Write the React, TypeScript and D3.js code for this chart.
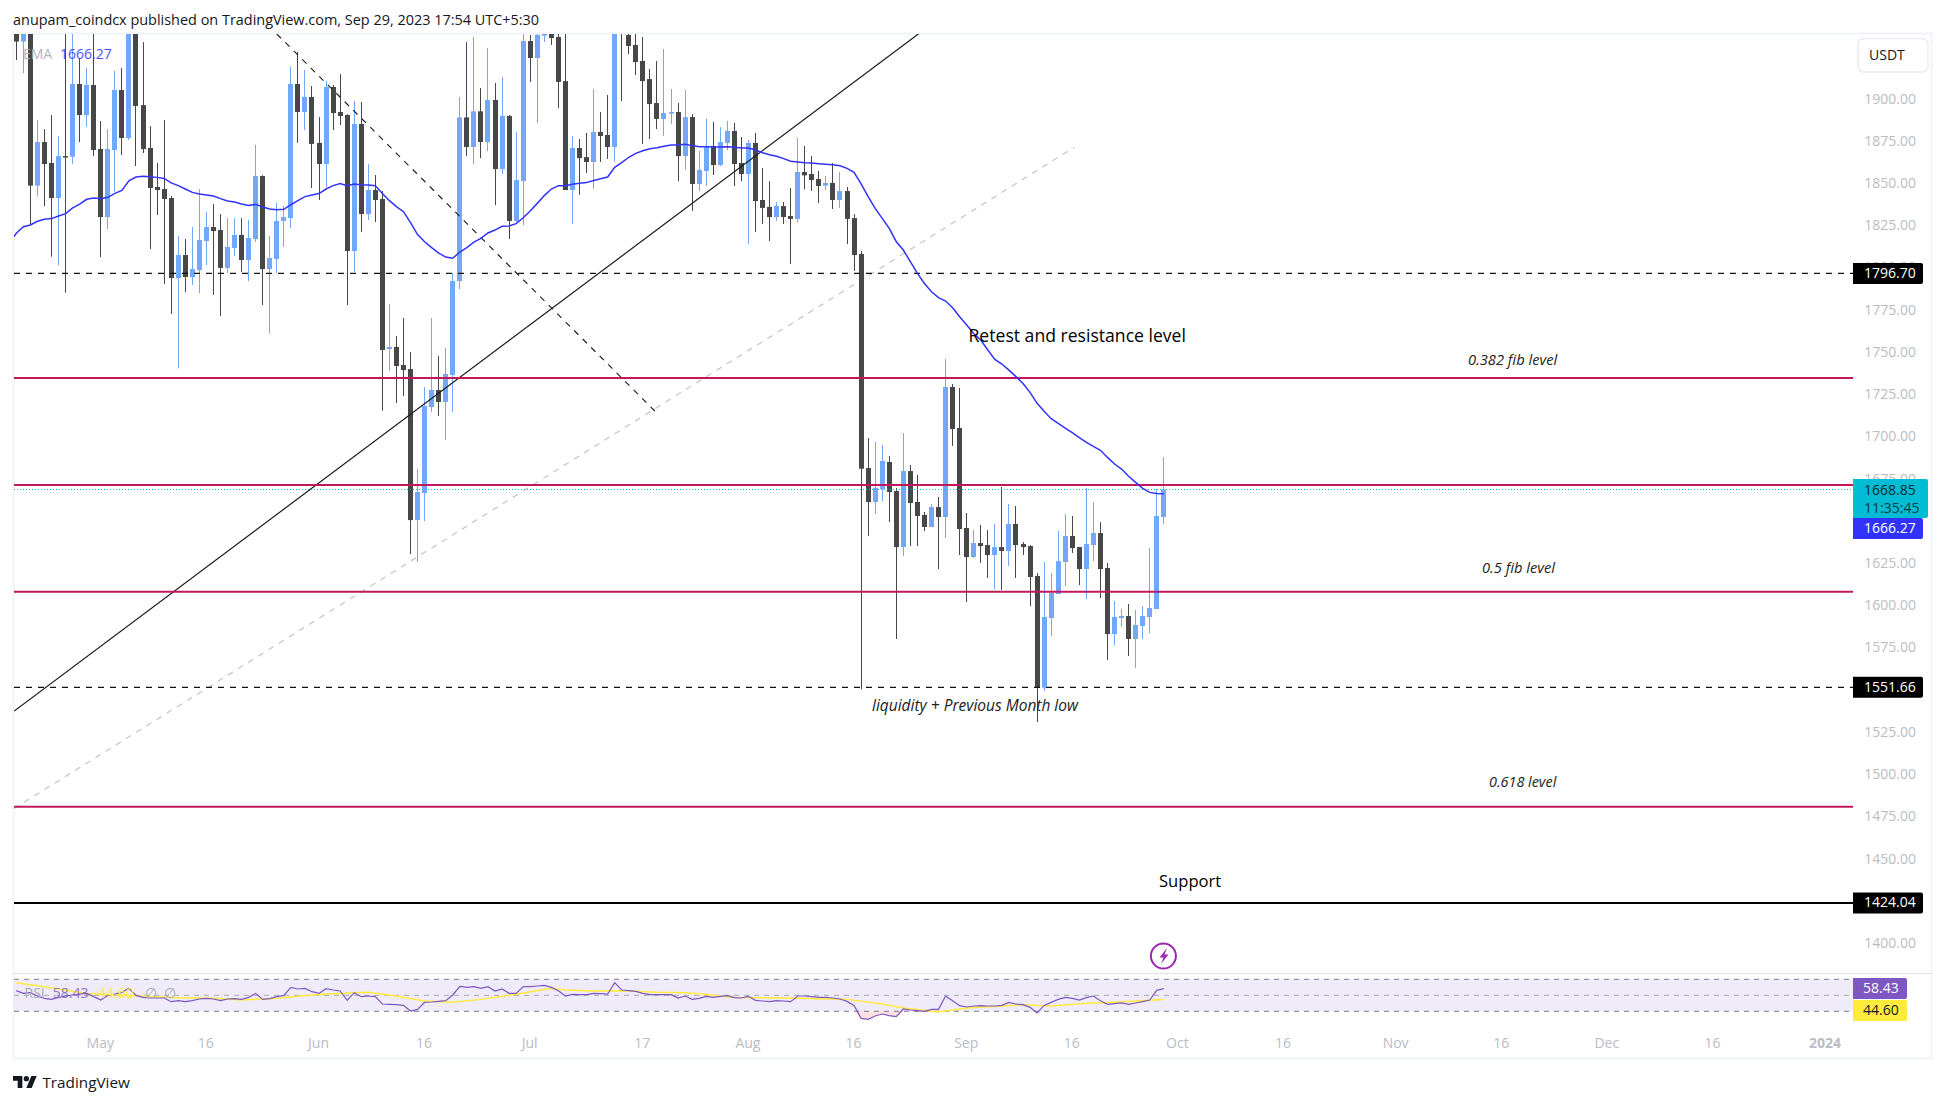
import React from "react";
import * as d3 from "d3";

const startDate = Date.UTC(2023, 3, 19);
const opens = [1945,1934,1945,1848.7,1874.5,1862.1,1841.4,1866.2,1865.8,1908.9,
1890.5,1908.3,1870.4,1830.1,1869.8,1905.3,1876.9,1943,1896.4,1871,
1847.9,1846.7,1841.4,1794,1807.6,1794.6,1798.7,1815.9,1824.2,1822.4,
1800,1811.8,1819.5,1804.7,1817.1,1854.4,1799.3,1805.3,1827.8,1829.5,
1908.9,1892.3,1901.2,1874,1861.5,1907.1,1892.3,1890.5,1810,1885.2,
1831.9,1846.1,1840.8,1752,1753.2,1742.5,1740.1,1650.7,1666.7,1717.6,
1727.7,1720.6,1736.6,1792.2,1889.1,1871.6,1892.7,1874.5,1899.4,1858.5,
1890,1827.8,1851.4,1934.3,1924.3,1937.5,1938.5,1936.7,1910.6,1846.1,
1871,1865.6,1862.7,1880.5,1878.7,1871.6,1945,1937.9,1932,1922.5,
1911.8,1897.6,1888.2,1891.3,1892.3,1866.2,1889.3,1849.7,1857.4,1872.2,
1860.9,1874,1881.1,1862.1,1855.6,1874,1840.2,1836.1,1830.1,1836.6,
1830.7,1829,1856.8,1855.6,1852.6,1848.7,1850.3,1840.2,1845.5,1829.5,
1808.2,1681.5,1661.4,1669.1,1685.1,1667.9,1634.7,1679.7,1661.4,1653.7,
1646.6,1658.4,1652.5,1729.5,1705.2,1646,1628.8,1637.1,1635.9,1630,
1634.7,1632.4,1648.4,1636.5,1635.3,1617.6,1551.5,1592.7,1606.9,1625.9,
1641.3,1634.7,1621.7,1635.9,1643,1622.3,1583.2,1592.7,1593.9,1580.3,
1588,1593.3,1598,1652.5];
const closes = [1934,1945,1848.7,1874.5,1861.5,1841.4,1866.2,1865.6,1908.9,1890.5,
1908.3,1869.8,1830.1,1870.4,1905.3,1876.9,1943,1895.9,1870.4,1847.3,
1846.1,1840.8,1794,1807.6,1794.6,1799.3,1816.5,1824.2,1821.8,1800,
1812.4,1819.5,1804.7,1817.7,1854.4,1799.3,1805.9,1827.8,1830.1,1908.9,
1892.3,1901.2,1873.4,1861.5,1907.1,1891.7,1889.9,1810,1885.2,1831.9,
1846.1,1840.2,1751.4,1753.2,1741.9,1739.5,1650.7,1667.3,1718.2,1727.7,
1720.6,1737.2,1792.2,1889.1,1871.6,1892.7,1874.5,1899.4,1858.5,1890,
1827.8,1852,1934.3,1924.3,1937.9,1938.5,1936.1,1910.1,1846.1,1871,
1865,1862.7,1880.5,1878.1,1871.6,1950,1938.5,1931.4,1921.9,1910.6,
1897,1888.2,1891.7,1892.3,1866.2,1889.3,1849.7,1858,1872.2,1860.9,
1874.5,1881.1,1861.5,1855.6,1874,1839.6,1835.5,1830.1,1836.6,1830.1,
1829,1856.8,1854.8,1852,1848.5,1850.3,1840.2,1845.5,1829,1807.6,
1681.1,1661.4,1669.7,1685.7,1667.3,1634.7,1679.7,1660.8,1653.1,1646.6,
1658.4,1652.5,1729.5,1704.6,1645.4,1628.8,1637.1,1635.3,1630,1634.7,
1632.4,1648.4,1635.9,1634.7,1617,1551.5,1593.3,1607.5,1626.4,1641.3,
1634.1,1621.7,1636.5,1643,1621.7,1583.2,1593.3,1593.9,1580.3,1588.6,
1593.9,1598.6,1653.1,1668.85];
const highs = [1950,1952,1950,1887.6,1882.2,1890.5,1878.1,1950,1945,1924.1,
1918.3,1942,1887,1882.2,1916.6,1918.3,1950,1950,1933.7,1884,
1862.1,1887.6,1842.6,1818.9,1817.1,1824.2,1846.7,1833.1,1837.8,1831.9,
1829.5,1829.5,1829.5,1828.4,1872.8,1854.9,1818.9,1838.4,1836.6,1919,
1927.8,1917.2,1907.7,1889.3,1910.6,1908.3,1914.8,1891,1898.8,1898.2,
1861.5,1855,1845.5,1778.6,1759.7,1770.3,1750.2,1680.9,1729.5,1770.3,
1747.8,1752.6,1796.8,1901.2,1933.7,1936.7,1906.5,1930.2,1909.5,1913,
1890.5,1880.5,1945,1937.9,1945,1945,1945,1938.5,1945,1878.1,
1876.3,1879.9,1905.9,1892.3,1902.4,1955,1950,1938.5,1938.5,1936.7,
1917.8,1922.5,1929.6,1905.9,1897.6,1905.3,1891.1,1869.2,1888.2,1886.4,
1883.4,1887,1885.8,1877.5,1875.7,1879.9,1859.1,1851.4,1839,1839,
1847.3,1876.9,1872.2,1866.2,1857.4,1854.4,1862.1,1856.8,1847.9,1831.9,
1810,1699.3,1696.9,1695.1,1688.6,1669.7,1702.2,1683.3,1677.4,1655.5,
1660.2,1664.4,1746,1731.3,1728.9,1654.9,1644.8,1647.8,1644.8,1648.4,
1670.3,1660.2,1659,1637.7,1635.9,1619.3,1625.9,1619.3,1644.2,1654.3,
1653.1,1634.7,1669.7,1661.4,1649.5,1625.3,1602.8,1598.1,1601,1597.5,
1599.8,1634.1,1669.1,1688];
const lows = [1923.1,1915.2,1825.4,1842.2,1836.6,1806.6,1801.7,1785.3,1861.5,1874.5,
1883.4,1866.2,1806.4,1823,1845,1866.8,1875.7,1860.3,1868,1811.2,
1831.3,1790.5,1772.7,1740.5,1785.7,1789.9,1785.1,1801.7,1784,1771.5,
1797,1807,1797.6,1792.2,1815.3,1778,1761.4,1797,1812.4,1823.6,
1874,1881.6,1847.3,1840.2,1847.9,1881.6,1884.6,1778,1797.6,1821.2,
1828.4,1827.2,1715.5,1739.1,1720,1724.1,1630.6,1625.9,1650.1,1714.7,
1712.3,1698.1,1714.7,1787.5,1866.2,1861.5,1865,1869.2,1837.2,1855.6,
1817.1,1827.2,1825.4,1910.1,1885.8,1933.7,1932,1894.7,1846.1,1826,
1843.2,1856.2,1846.7,1862.7,1864.5,1862.7,1898.8,1926.6,1914.2,1873.4,
1876.3,1882.2,1878.1,1885.2,1851.4,1858,1833.7,1845.5,1848.5,1855,
1860.3,1869.8,1848.5,1851.4,1814.1,1821.2,1826,1815.9,1827.8,1826,
1802.3,1826.8,1846.5,1845.5,1838.4,1846.1,1834.9,1835.5,1814.1,1798.2,
1550.5,1641.3,1654.3,1662,1649.5,1580.3,1629.4,1635.3,1635.3,1644.2,
1646.6,1621.7,1640.1,1694.6,1630,1602.2,1628.2,1625.3,1616.4,1609.9,
1609.3,1623.5,1616.4,1630,1599.8,1531.1,1549.5,1582.1,1606.9,1611.6,
1631.2,1612.2,1604,1626.5,1604.5,1567.8,1576.7,1587.4,1570.2,1563.1,
1580.3,1583.8,1598,1648.4];
const emaLeadDay = -0.35;
const emaLeadValue = 1818.4;
const emaValues = [1820.5,1824.4,1825.4,1827.6,1828.8,1829.2,1830.7,1832.1,1835.5,1837.8,1840.6,1841.4,1841,1841.8,1844.1,1845.9,1851.6,1853.8,1854.2,1854,1853.6,1853,1850.3,1848.7,1846.7,1844.7,1843.7,1843.2,1842.6,1841,1839.6,1839,1837.8,1837,1837.6,1836,1834.9,1834.5,1834.7,1837.4,1839.8,1842.2,1843.2,1844,1846.7,1848.7,1849.9,1848.7,1849.7,1849.3,1849.1,1848.7,1844.1,1839.8,1836.3,1833.3,
1826.8,1819.7,1815.5,1812,1808.8,1806.4,1805.7,1809.4,1812,1815.3,1817.5,1820.7,1822.4,1824.6,1824.8,1826.2,1829.7,1833.7,1838.2,1842.8,1846.7,1848.7,1848.7,1849.5,1850.1,1850.5,1851.8,1852.8,1853.8,1859.5,1862.3,1865.5,1867.8,1869.4,1870.6,1871.2,1872,1872.8,1872.8,1873.2,1872.4,1871.8,1871.8,1871.6,1871.6,1871.8,1871.4,1871,1871,1869.8,1868.2,1867,1866.1,1864.7,1863.1,1862.7,
1862.3,1862.1,1861.7,1861.3,1861.1,1860.5,1858.9,1856.6,1849.7,1842.2,1835.2,1829.3,1823.4,1815.5,1810.6,1803.7,1796.8,1790.8,1785.9,1782.4,1780.4,1776.4,1771.1,1766.2,1761.2,1757.3,1751.4,1745.8,
1743.1,1739.5,1735.6,1731.6,1726.3,1719.8,1715.1,1710.7,1708,1705.2,1702.4,1699.5,1696.7,1694.3,1692,1687.8,1683.9,1680.9,1676.6,1673,1669.5,1667.1,1666.5,1666.3];
const rsiValues = [55.8,52.4,53.3,49.1,46.2,44.9,47.4,49.1,50.4,51.6,52.4,48.3,44.1,49.9,51.6,53.7,58.7,49.9,47.4,46.6,46.6,46.6,42,43.3,42,43.3,45.4,46.2,45.4,43.3,45.4,45.8,44.9,47.4,52.4,44.9,45.8,48.3,49.9,59.9,57.9,58.7,54.5,52.4,58.3,56.6,55.4,43.7,53.3,48.3,49.1,48.3,39.1,38.7,38.3,37.4,30.4,32.4,41.2,41.6,42.4,43.3,50.4,61.2,59.9,60.8,58.7,60.8,55.4,57.9,52.4,52.4,60.8,60.8,61.6,62.4,59.9,55.8,49.1,51.2,50.8,50.8,52.4,52,51.6,65.8,56.6,55.8,54.9,52.4,50.8,50.8,50.8,50.8,46.6,49.1,44.9,46.2,
48.7,47.4,48.7,49.5,47,46.6,48.7,43.7,42.9,42,43.3,42.9,42,49.1,49.1,48.3,47.4,47.4,46.6,45.4,42.4,37.4,21.2,19.9,24.1,26.6,24.5,23.3,32.9,31.6,30.8,29.9,32.4,32.4,49.1,43.3,37,35.4,36.6,37,36.6,36.6,37.4,41.2,39.1,38.3,34.9,27.9,37.4,41.2,44.9,47.4,46.2,44.1,47,49.1,43.3,38.7,39.5,40.4,38.7,40.4,42,44.1,56.2,58.43];
const rsiMaDays = [0,4,10,17,23,28,32,37,42,47,50,53,58,62,66,71,76,78,82,86,91,95,97,102,111,118,123,126,131,135,140,143,147,152,156,163];
const rsiMaValues = [65.8,60.8,52.4,49.5,47,46.2,44.1,46.2,50.4,52.8,53.7,50.4,42.8,41.2,44.9,51.2,58.7,56.6,55.4,55.8,53.7,53.3,52,47.4,46.2,44.9,39.1,34.1,29.1,34.1,36.6,38.3,36.6,40,41.2,44.6];

const priceTicks = [1900,1875,1850,1825,1800,1775,1750,1725,1700,1675,1650,1625,1600,1575,1550,1525,1500,1475,1450,1425,1400];
const timeTickDates = [[2023,4,1],[2023,4,16],[2023,5,1],[2023,5,16],[2023,6,1],[2023,6,17],[2023,7,1],[2023,7,16],[2023,8,1],[2023,8,16],[2023,9,1],[2023,9,16],[2023,10,1],[2023,10,16],[2023,11,1],[2023,11,16],[2024,0,1]];
const timeTickLabels = ["May","16","Jun","16","Jul","17","Aug","16","Sep","16","Oct","16","Nov","16","Dec","16","2024"];
const crimsonLevels = [1734.8, 1671.5, 1608.3, 1481];
const dashedLevels = [1796.7, 1551.66];
const supportLevel = 1424.04;
const lastPrice = 1668.85;
const risingLine = [[-0.3, 1537.6],[128.3, 1939]];
const fallingLine = [[37, 1938.5],[90.7, 1715.3]];
const greyLine = [[-0.33, 1479.9],[150.3, 1871.5]];

const F = "'Open Sans', sans-serif";
const dayMs = 86400000;
const x = d3.scaleUtc().domain([startDate, startDate + 163 * dayMs]).range([16.3, 1163.8]);
const xi = (i: number) => x(startDate + i * dayMs);
const y = d3.scaleLinear().domain([1900, 1400]).range([99, 943.5]);
const yR = d3.scaleLinear().domain([70, 30]).range([979.3, 1011.3]);
const L = 14, R = 1853, TOP = 34, PB = 973;

const UP = "#72a8fa", DOWN = "#474747";
const linePath = (pts: number[][]) => d3.line<number[]>().x(p => xi(p[0])).y(p => y(p[1]))(pts) as string;

function Box({ top, h = 21, w, fill, children }: any) {
  return (
    <g>
      <path d={`M1853 ${top}H${1853 + w - 2}a2 2 0 0 1 2 2V${top + h - 2}a2 2 0 0 1 -2 2H1853Z`} fill={fill} />
      {children}
    </g>
  );
}
const boxText = (t: string, yy: number, fill: string, xx = 1864) => (
  <text x={xx} y={yy - 1} dominantBaseline="central" fontFamily={F} fontSize={14} fill={fill}>{t}</text>
);

export default function App() {
  const emaPts = [[emaLeadDay, emaLeadValue], ...emaValues.map((v, i) => [i, v])];
  const emaLine = linePath(emaPts);
  const rsiLine = d3.line<number>().x((_, i) => xi(i)).y(d => yR(d))(rsiValues) as string;
  const maLine = d3.line<number>().x((_, i) => xi(rsiMaDays[i])).y(d => yR(d))(rsiMaValues) as string;
  const below = d3.area<number>().x((_, i) => xi(i)).y0(yR(30)).y1(d => yR(Math.min(d, 30)))(rsiValues) as string;
  return (
    <svg width={1946} height={1104} style={{ position: "absolute", left: 0, top: 0, display: "block", background: "#fff" }}>
      <defs>
        <clipPath id="main"><rect x={L} y={TOP} width={R - L} height={PB - TOP} /></clipPath>
      </defs>
      <text x={13} y={19} dominantBaseline="central" fontFamily={F} fontSize={14.45} fill="#131722">anupam_coindcx published on TradingView.com, Sep 29, 2023 17:54 UTC+5:30</text>

      {/* frame */}
      <rect x={13.5} y={33.5} width={1918} height={1025} fill="none" stroke="#f0f3fa" strokeWidth={2} />
      <line x1={14} x2={1932} y1={973.5} y2={973.5} stroke="#e0e3eb" strokeWidth={1} />

      <g clipPath="url(#main)">
        <path d={linePath(greyLine)} fill="none" stroke="#c4c4c4" strokeWidth={1.2} strokeDasharray="6 6" />
        {opens.map((o, i) => {
          const c = closes[i];
          const col = c >= o ? UP : DOWN;
          const cx = Math.round(xi(i) - 0.5) + 0.5;
          const top = y(Math.max(o, c));
          const bot = y(Math.min(o, c));
          return (
            <g key={i}>
              <line x1={cx} x2={cx} y1={y(highs[i])} y2={y(lows[i])} stroke={col} strokeWidth={1} />
              <rect x={cx - 2.5} y={top} width={5} height={Math.max(bot - top, 1.5)} fill={col} />
            </g>
          );
        })}
        <path d={linePath(risingLine)} fill="none" stroke="#1a1a1a" strokeWidth={1.2} />
        <path d={linePath(fallingLine)} fill="none" stroke="#222" strokeWidth={1.2} strokeDasharray="6 6" />
        {dashedLevels.map(l => (
          <line key={l} x1={L} x2={R} y1={y(l)} y2={y(l)} stroke="#111" strokeWidth={1.2} strokeDasharray="6 6" />
        ))}
        {crimsonLevels.map(l => (
          <line key={l} x1={L} x2={R} y1={y(l)} y2={y(l)} stroke="#c2185b" strokeWidth={2} />
        ))}
        <line x1={L} x2={R} y1={y(supportLevel)} y2={y(supportLevel)} stroke="#000" strokeWidth={2} />
        <line x1={L} x2={R} y1={y(lastPrice)} y2={y(lastPrice)} stroke="#00bcd4" strokeWidth={1} strokeDasharray="1 2" />
        <path d={emaLine} fill="none" stroke="#3232ff" strokeWidth={1.5} />
      </g>

      {/* annotations */}
      <text x={968.5} y={335} dominantBaseline="central" fontFamily={F} fontSize={17.6} fontWeight={500} fill="#000">Retest and resistance level</text>
      <text x={1159} y={880} dominantBaseline="central" fontFamily={F} fontSize={16.6} fontWeight={500} fill="#000">Support</text>
      <text x={872} y={705} dominantBaseline="central" fontFamily={F} fontSize={15.5} fontStyle="italic" fill="#222">liquidity + Previous Month low</text>
      <text x={1468} y={359} dominantBaseline="central" fontFamily={F} fontSize={14.7} fontStyle="italic" fill="#222">0.382 fib level</text>
      <text x={1482} y={567} dominantBaseline="central" fontFamily={F} fontSize={14.7} fontStyle="italic" fill="#222">0.5 fib level</text>
      <text x={1489} y={781} dominantBaseline="central" fontFamily={F} fontSize={14.4} fontStyle="italic" fill="#222">0.618 level</text>

      {/* legend */}
      <text x={23} y={53} dominantBaseline="central" fontFamily={F} fontSize={14} fill="#b2b5be">EMA</text>
      <text x={60} y={53} dominantBaseline="central" fontFamily={F} fontSize={14} fill="#3232ff" opacity={0.85}>1666.27</text>

      {/* price axis */}
      {priceTicks.map(t => (
        <text key={t} x={1916} y={y(t) - 1} textAnchor="end" dominantBaseline="central" fontFamily={F} fontSize={14} fill="#b9bcc5">{t.toFixed(2)}</text>
      ))}
      <rect x={1858} y={38.5} width={70} height={33.5} rx={6} fill="#fff" stroke="#e9ebf1" strokeWidth={1.5} />
      <text x={1869} y={54} dominantBaseline="central" fontFamily={F} fontSize={14} fill="#131722">USDT</text>

      <Box top={y(1796.7) - 10.5} w={70} fill="#000">{boxText("1796.70", y(1796.7), "#fff")}</Box>
      <Box top={y(1551.66) - 10.5} w={70} fill="#000">{boxText("1551.66", y(1551.66), "#fff")}</Box>
      <Box top={y(supportLevel) - 10.5} w={70} fill="#000">{boxText("1424.04", y(supportLevel), "#fff")}</Box>
      <Box top={479} h={39} w={75} fill="#00bcd4">
        {boxText("1668.85", 490, "#0a2a33")}
        {boxText("11:35:45", 508, "#0a3a44")}
      </Box>
      <Box top={518} w={70} fill="#3232ff">{boxText("1666.27", 528.5, "#fff")}</Box>

      {/* RSI pane */}
      <rect x={L} y={yR(70)} width={R - L} height={yR(30) - yR(70)} fill="#7e57c2" opacity={0.12} />
      {[70, 50, 30].map(l => (
        <line key={l} x1={L} x2={R} y1={yR(l)} y2={yR(l)} stroke={l === 50 ? "#a9a9b2" : "#787b86"} strokeWidth={1} strokeDasharray="5 5" />
      ))}
      <path d={below} fill="#f23645" opacity={0.15} />
      <path d={maLine} fill="none" stroke="#ffeb3b" strokeWidth={1.5} />
      <path d={rsiLine} fill="none" stroke="#7e57c2" strokeWidth={1.2} />
      <text x={24.5} y={992} dominantBaseline="central" fontFamily={F} fontSize={14} fill="#a9acb6">RSI</text>
      <text x={52.7} y={992} dominantBaseline="central" fontFamily={F} fontSize={14} fill="#7e57c2" opacity={0.8}>58.43</text>
      <text x={98} y={992} dominantBaseline="central" fontFamily={F} fontSize={14} fill="#ffeb3b">44.60</text>
      <text x={145} y={992} dominantBaseline="central" fontFamily={F} fontSize={14} fill="#a9acb6">∅</text>
      <text x={164} y={992} dominantBaseline="central" fontFamily={F} fontSize={14} fill="#a9acb6">∅</text>
      <Box top={978} w={54} fill="#7e57c2">{boxText("58.43", 988.5, "#fff", 1863)}</Box>
      <Box top={1000} w={54} fill="#ffeb3b">{boxText("44.60", 1010.5, "#131722", 1863)}</Box>

      {/* alert icon */}
      <circle cx={1163.4} cy={956} r={12.5} fill="#fff" stroke="#9c27b0" strokeWidth={2} />
      <path d="M1167 948l-7.5 9.5h4l-2.5 6.5 7.5-9.5h-4z" fill="#9c27b0" />

      {/* time axis */}
      {timeTickLabels.map((t, i) => {
        const d = timeTickDates[i];
        return (
          <text key={i} x={x(Date.UTC(d[0], d[1], d[2])) - 0.5} y={1042} textAnchor="middle" dominantBaseline="central" fontFamily={F} fontSize={14} fontWeight={t === "2024" ? 700 : 400} fill="#b9bcc5">{t}</text>
        );
      })}

      {/* footer */}
      <g transform="translate(13 1073.3) scale(0.667)" fill="#131722">
        <path d="M14 22H7V11H0V4h14v18zM28 22h-8l7.5-18h8L28 22z" />
        <circle cx={20} cy={8} r={4} />
      </g>
      <text x={42.4} y={1081.5} dominantBaseline="central" fontFamily={F} fontSize={15.3} fill="#131722">TradingView</text>
    </svg>
  );
}
